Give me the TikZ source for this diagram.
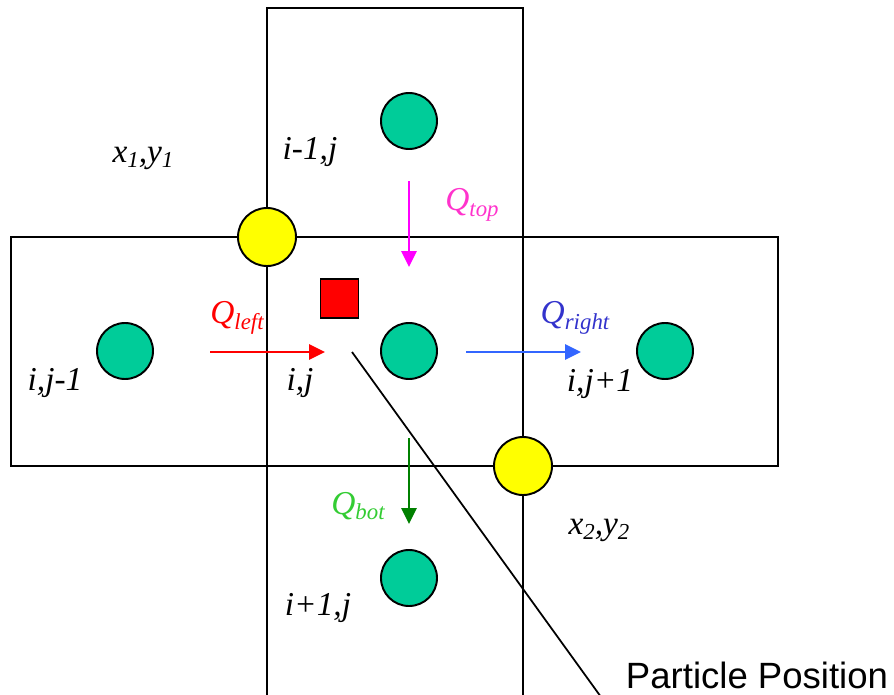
\documentclass[tikz,border=0pt]{standalone}
\usepackage{fontspec}
\setmainfont{Liberation Serif}
\setsansfont{Liberation Sans}
\usetikzlibrary{arrows.meta,positioning}

\definecolor{cellgreen}{HTML}{00CC99}
\definecolor{nodeyellow}{HTML}{FFFF00}
\definecolor{qtopcol}{HTML}{FF33CC}
\definecolor{qtoparrow}{HTML}{FF00FF}
\definecolor{qrightcol}{HTML}{3333CC}
\definecolor{qrightarrow}{HTML}{3366FF}
\definecolor{qbotcol}{HTML}{33CC33}
\definecolor{qbotarrow}{HTML}{008000}

\newcommand{\lowidx}[1]{\raisebox{-0.35ex}{\fontsize{13}{13}\selectfont #1}}

\tikzset{
  cellbox/.style={draw, line width=1.1pt},
  centre/.style={circle, draw, line width=1.1pt, fill=cellgreen, minimum size=11.2mm, inner sep=0pt},
  corner/.style={circle, draw, line width=1.1pt, fill=nodeyellow, minimum size=11.6mm, inner sep=0pt},
  flux/.style={line width=1pt, -{Triangle[length=3.2mm,width=3.1mm]}},
  lbl/.style={font=\fontsize{19}{22}\selectfont\itshape, inner sep=0pt}
}

\begin{document}
\begin{tikzpicture}[x=0.2mm, y=-0.2mm]
            \useasboundingbox (0,0) rectangle (894,695);

            % Cells (cross of five)
            \draw[cellbox] (267,8) rectangle (523,700);
            \draw[cellbox] (11,237) rectangle (778,466);

            % Corner points
            \node[corner] (c1) at (267,237) {};
            \node[corner] (c2) at (523,466) {};

            % Cell centres
            \node[centre] (top) at (409,121) {};
            \node[centre] (left) at (125,351) {};
            \node[centre] (mid) at (409,351) {};
            \node[centre] (right) at (665,351) {};
            \node[centre] (bot) at (409,578) {};

            % Particle
            \node[draw, line width=0.6pt, fill=red, minimum width=7.6mm, minimum height=7.8mm, inner sep=0pt] (part) at (339.5,298.5) {};

            % Fluxes
            \coordinate (qt1) at (409,181); \coordinate (qt2) at (409,267);
            \coordinate (ql1) at (210,352); \coordinate (ql2) at (325,352);
            \coordinate (qr1) at (466,352); \coordinate (qr2) at (581,352);
            \coordinate (qb1) at (409,438); \coordinate (qb2) at (409,524);
            \draw[flux, draw=qtoparrow, fill=qtoparrow] (qt1) -- (qt2);
            \draw[flux, draw=red, fill=red] (ql1) -- (ql2);
            \draw[flux, draw=qrightarrow, fill=qrightarrow] (qr1) -- (qr2);
            \draw[flux, draw=qbotarrow, fill=qbotarrow] (qb1) -- (qb2);

            % Pointer line
            \coordinate (p1) at (352,352);
            \coordinate (p2) at (601,697);
            \draw[line width=1pt] (p1) -- (p2);

            % Labels
            \node[lbl] (lx1) at (143,158) {x\lowidx{1},y\lowidx{1}};
            \node[lbl] (ltop) at (310,152) {i-1,j};
            \node[lbl, text=qtopcol] (lqt) at (472,205) {Q\lowidx{top}};
            \node[lbl, text=red] (lql) at (237,318) {Q\lowidx{left}};
            \node[lbl, text=qrightcol] (lqr) at (575,318) {Q\lowidx{right}};
            \node[lbl] (lleft) at (55,383) {i,j-1};
            \node[lbl] (lmid) at (300,383) {i,j};
            \node[lbl] (lright) at (600,384) {i,j+1};
            \node[lbl, text=qbotcol] (lqb) at (358,506) {Q\lowidx{bot}};
            \node[lbl] (lx2) at (599,530) {x\lowidx{2},y\lowidx{2}};
            \node[lbl] (lbot) at (318,608) {i+1,j};
            \node[font=\sffamily\fontsize{20.8}{24}\selectfont, inner sep=0pt] (lpp) at (757,675) {Particle Position};
        \end{tikzpicture}
\end{document}
